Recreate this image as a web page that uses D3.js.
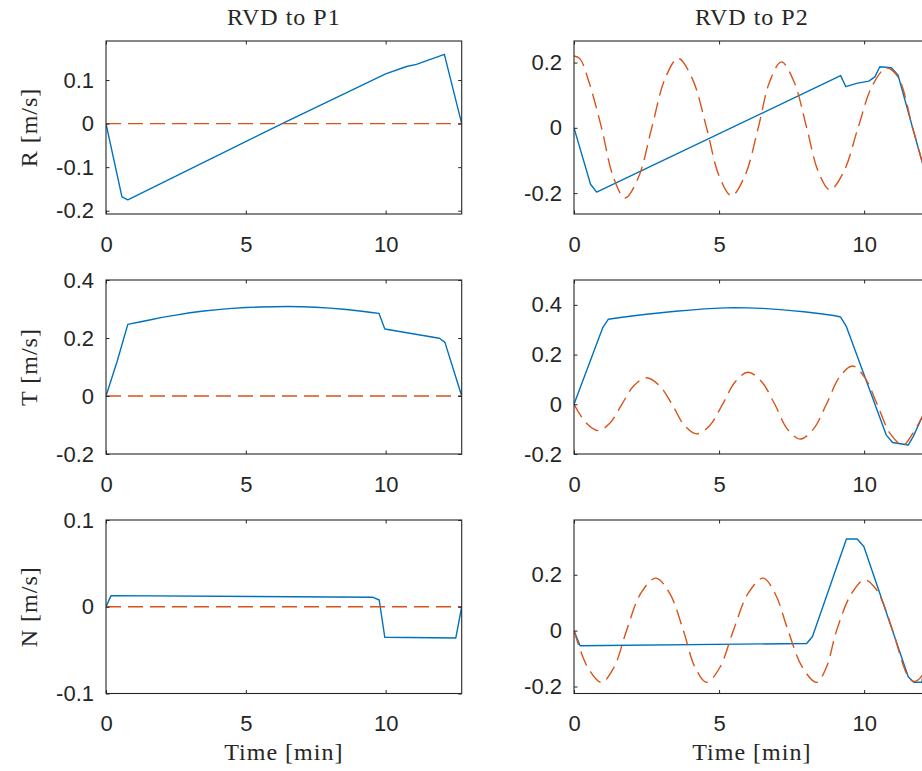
<!DOCTYPE html>
<html><head><meta charset="utf-8">
<script src="https://cdn.jsdelivr.net/npm/d3@7"></script>
<style>
html,body{margin:0;padding:0;background:#fff;overflow:hidden}
svg{display:block}
.tick text{font-family:"Liberation Sans",Arial,Helvetica,sans-serif;font-size:22px;fill:#262626}
.lbl{font-family:"Liberation Serif","Times New Roman",serif;font-size:24px;fill:#262626;letter-spacing:1px}
</style></head><body>
<svg id="chart" width="922" height="771"></svg>
<script>
// ---------- text ----------
const columnTitles = ["RVD to P1", "RVD to P2"];
const rowLabels = ["R [m/s]", "T [m/s]", "N [m/s]"];
const xLabel = "Time [min]";

// ---------- axes limits & ticks ----------
const xTicks = [0, 5, 10];
const xMaxP1 = 12.72;
const xMaxP2 = 12.26;
const yLimP1R = [-0.2075, 0.1896], yTicksP1R = [-0.2, -0.1, 0, 0.1];
const yLimP2R = [-0.264, 0.266],   yTicksP2R = [-0.2, 0, 0.2];
const yLimP1T = [-0.2, 0.4],       yTicksP1T = [-0.2, 0, 0.2, 0.4];
const yLimP2T = [-0.2, 0.5],       yTicksP2T = [-0.2, 0, 0.2, 0.4];
const yLimP1N = [-0.1, 0.1],       yTicksP1N = [-0.1, 0, 0.1];
const yLimP2N = [-0.225, 0.396],   yTicksP2N = [-0.2, 0, 0.2];

// ---------- series: RVD to P1 ----------
const p1R_solid_t = [0, 0.57, 0.78, 6.3, 10.0, 10.75, 11.1, 12.1, 12.72];
const p1R_solid_v = [0, -0.168, -0.175, 0, 0.114, 0.131, 0.136, 0.159, 0];
const p1R_dash_t  = [0, 12.72];
const p1R_dash_v  = [0, 0];

const p1T_solid_t = [0, 0.4, 0.78, 1.2, 1.6, 2.0, 2.5, 3.0, 3.5, 4.0, 4.5, 5.0, 5.5, 6.0, 6.5, 7.0, 7.5, 8.0, 8.5, 9.0, 9.5, 9.76, 9.97, 11.92, 12.12, 12.72];
const p1T_solid_v = [0, 0.12, 0.247, 0.255, 0.263, 0.271, 0.279, 0.287, 0.293, 0.298, 0.302, 0.305, 0.307, 0.308, 0.3085, 0.308, 0.306, 0.303, 0.299, 0.294, 0.288, 0.285, 0.231, 0.199, 0.185, 0];
const p1T_dash_t  = [0, 12.72];
const p1T_dash_v  = [0, 0];

const p1N_solid_t = [0, 0.18, 9.55, 9.77, 9.97, 12.51, 12.72];
const p1N_solid_v = [0, 0.0128, 0.0109, 0.0078, -0.0352, -0.036, 0];
const p1N_dash_t  = [0, 12.72];
const p1N_dash_v  = [0, 0];

// ---------- series: RVD to P2 ----------
const p2R_solid_t = [0, 0.57, 0.78, 9.19, 9.37, 9.74, 10.16, 10.37, 10.54, 10.94, 11.17, 11.98, 12.26];
const p2R_solid_v = [0, -0.173, -0.197, 0.160, 0.126, 0.136, 0.143, 0.156, 0.187, 0.184, 0.161, -0.099, -0.19];
const p2R_dash_t  = [0, 0.2, 0.5, 0.95, 1.36, 1.76, 2.22, 2.68, 3.14, 3.59, 4.08, 4.57, 5.0, 5.43, 5.89, 6.35, 6.75, 7.15, 7.58, 8.02, 8.42, 8.82, 9.3, 9.79, 10.28, 10.77, 11.17, 11.67, 11.98, 12.26];
const p2R_dash_v  = [0.22, 0.212, 0.145, 0, -0.152, -0.215, -0.152, 0, 0.151, 0.213, 0.150, 0, -0.147, -0.208, -0.147, 0, 0.143, 0.202, 0.142, 0, -0.134, -0.19, -0.134, 0, 0.129, 0.183, 0.155, 0, -0.097, -0.18];

const p2T_solid_t = [0, 0.99, 1.18, 1.6, 2.0, 2.5, 3.0, 3.5, 4.0, 4.5, 5.0, 5.5, 6.0, 6.5, 7.0, 7.5, 8.0, 8.5, 9.0, 9.19, 9.39, 10.76, 10.98, 11.52, 11.69, 11.98, 12.26];
const p2T_solid_v = [0, 0.308, 0.342, 0.349, 0.355, 0.362, 0.368, 0.374, 0.379, 0.384, 0.387, 0.389, 0.388, 0.386, 0.382, 0.377, 0.371, 0.364, 0.356, 0.351, 0.312, -0.123, -0.154, -0.164, -0.130, -0.056, 0];
const p2T_dash_t  = [0, 0.42, 0.84, 1.24, 1.65, 2.07, 2.5, 2.93, 3.38, 3.8, 4.23, 4.68, 5.12, 5.56, 6.0, 6.46, 6.92, 7.35, 7.79, 8.25, 8.7, 9.15, 9.6, 10.02, 10.45, 10.9, 11.34, 11.66, 11.98, 12.26];
const p2T_dash_v  = [0, -0.075, -0.106, -0.075, 0, 0.076, 0.107, 0.077, 0, -0.084, -0.119, -0.085, 0, 0.091, 0.129, 0.092, 0, -0.099, -0.140, -0.100, 0, 0.109, 0.154, 0.108, 0, -0.118, -0.164, -0.12, -0.056, 0];

const p2N_solid_t = [0, 0.21, 8.02, 8.22, 9.39, 9.76, 9.99, 11.52, 11.71, 11.99, 12.26];
const p2N_solid_v = [0, -0.054, -0.046, -0.021, 0.328, 0.328, 0.301, -0.165, -0.185, -0.185, 0];
const p2N_dash_t  = [0, 0.47, 0.95, 1.38, 1.81, 2.3, 2.82, 3.3, 3.77, 4.17, 4.57, 5.03, 5.49, 6.0, 6.52, 6.93, 7.38, 7.87, 8.36, 8.7, 9.05, 9.55, 10.02, 10.4, 10.66, 11.0, 11.52, 11.72, 12.0, 12.26];
const p2N_dash_v  = [0, -0.131, -0.185, -0.131, 0, 0.133, 0.188, 0.133, 0, -0.131, -0.185, -0.131, 0, 0.133, 0.188, 0.133, 0, -0.131, -0.185, -0.131, 0, 0.13, 0.182, 0.15, 0.097, -0.005, -0.165, -0.182, -0.16, -0.05];

// ---------- panel table built from the arrays ----------
const panels = [
  {row:0, col:0, xMax:xMaxP1, yLim:yLimP1R, yTicks:yTicksP1R, solid:[p1R_solid_t,p1R_solid_v], dash:[p1R_dash_t,p1R_dash_v], curved:false},
  {row:0, col:1, xMax:xMaxP2, yLim:yLimP2R, yTicks:yTicksP2R, solid:[p2R_solid_t,p2R_solid_v], dash:[p2R_dash_t,p2R_dash_v], curved:true},
  {row:1, col:0, xMax:xMaxP1, yLim:yLimP1T, yTicks:yTicksP1T, solid:[p1T_solid_t,p1T_solid_v], dash:[p1T_dash_t,p1T_dash_v], curved:false},
  {row:1, col:1, xMax:xMaxP2, yLim:yLimP2T, yTicks:yTicksP2T, solid:[p2T_solid_t,p2T_solid_v], dash:[p2T_dash_t,p2T_dash_v], curved:true},
  {row:2, col:0, xMax:xMaxP1, yLim:yLimP1N, yTicks:yTicksP1N, solid:[p1N_solid_t,p1N_solid_v], dash:[p1N_dash_t,p1N_dash_v], curved:false},
  {row:2, col:1, xMax:xMaxP2, yLim:yLimP2N, yTicks:yTicksP2N, solid:[p2N_solid_t,p2N_solid_v], dash:[p2N_dash_t,p2N_dash_v], curved:true}
];

// ---------- layout ----------
const colX = [[106, 461.7], [574, 929.7]];
const rowY = [[41, 214], [280, 454], [520, 693.5]];
const axisColor = "#262626";
const blue = "#0072BD", orange = "#D95319";
const tickLen = 3.5;

const svg = d3.select("#chart");
const defs = svg.append("defs");
const fmt = d => d === 0 ? "0" : String(d);

panels.forEach((p, i) => {
  const [x0, x1] = colX[p.col], [y0, y1] = rowY[p.row];
  const x = d3.scaleLinear().domain([0, p.xMax]).range([x0, x1]);
  const y = d3.scaleLinear().domain(p.yLim).range([y1, y0]);

  defs.append("clipPath").attr("id", "clip" + i)
    .append("rect").attr("x", x0).attr("y", y0).attr("width", x1 - x0).attr("height", y1 - y0);

  const g = svg.append("g");
  const plot = g.append("g").attr("clip-path", "url(#clip" + i + ")");

  const lineLin = d3.line().x(d => x(d[0])).y(d => y(d[1]));
  const lineCurve = d3.line().x(d => x(d[0])).y(d => y(d[1])).curve(d3.curveCatmullRom.alpha(0.5));

  plot.append("path").datum(d3.zip(p.solid[0], p.solid[1]))
    .attr("d", lineLin).attr("fill", "none").attr("stroke", blue)
    .attr("stroke-width", 1.4).attr("stroke-linejoin", "round");
  plot.append("path").datum(d3.zip(p.dash[0], p.dash[1]))
    .attr("d", p.curved ? lineCurve : lineLin).attr("fill", "none").attr("stroke", orange)
    .attr("stroke-width", 1.4).attr("stroke-dasharray", "15,7");

  // axes
  const ax = g.append("g").attr("transform", `translate(0,${y1})`)
    .call(d3.axisBottom(x).tickValues(xTicks).tickFormat(fmt).tickSize(-tickLen).tickSizeOuter(0).tickPadding(22));
  const axT = g.append("g").attr("transform", `translate(0,${y0})`)
    .call(d3.axisTop(x).tickValues(xTicks).tickFormat("").tickSize(-tickLen).tickSizeOuter(0));
  const ay = g.append("g").attr("transform", `translate(${x0},0)`)
    .call(d3.axisLeft(y).tickValues(p.yTicks).tickFormat(fmt).tickSize(-tickLen).tickSizeOuter(0).tickPadding(12));
  const ayR = g.append("g").attr("transform", `translate(${x1},0)`)
    .call(d3.axisRight(y).tickValues(p.yTicks).tickFormat("").tickSize(-tickLen).tickSizeOuter(0));
  [ax, axT, ay, ayR].forEach(a => {
    a.select(".domain").remove();
    a.selectAll(".tick line").attr("stroke", axisColor).attr("stroke-width", 1);
    a.selectAll(".tick text").attr("fill", axisColor).style("font-family", '"Liberation Sans",Arial,sans-serif').style("font-size", "22px");
  });
  g.append("rect").attr("x", x0).attr("y", y0).attr("width", x1 - x0).attr("height", y1 - y0)
    .attr("fill", "none").attr("stroke", axisColor).attr("stroke-width", 1.1);

  const cx = (x0 + x1) / 2, cy = (y0 + y1) / 2;
  if (p.row === 0) {
    g.append("text").attr("class", "lbl").attr("x", cx).attr("y", 25)
      .attr("text-anchor", "middle").attr("fill", "#000").text(columnTitles[p.col]);
  }
  if (p.row === 2) {
    g.append("text").attr("class", "lbl").attr("x", cx).attr("y", 760)
      .attr("text-anchor", "middle").text(xLabel);
  }
  if (p.col === 0) {
    g.append("text").attr("class", "lbl").attr("text-anchor", "middle")
      .attr("transform", `translate(37,${cy}) rotate(-90)`).text(rowLabels[p.row]);
  }
});
</script>
</body></html>
